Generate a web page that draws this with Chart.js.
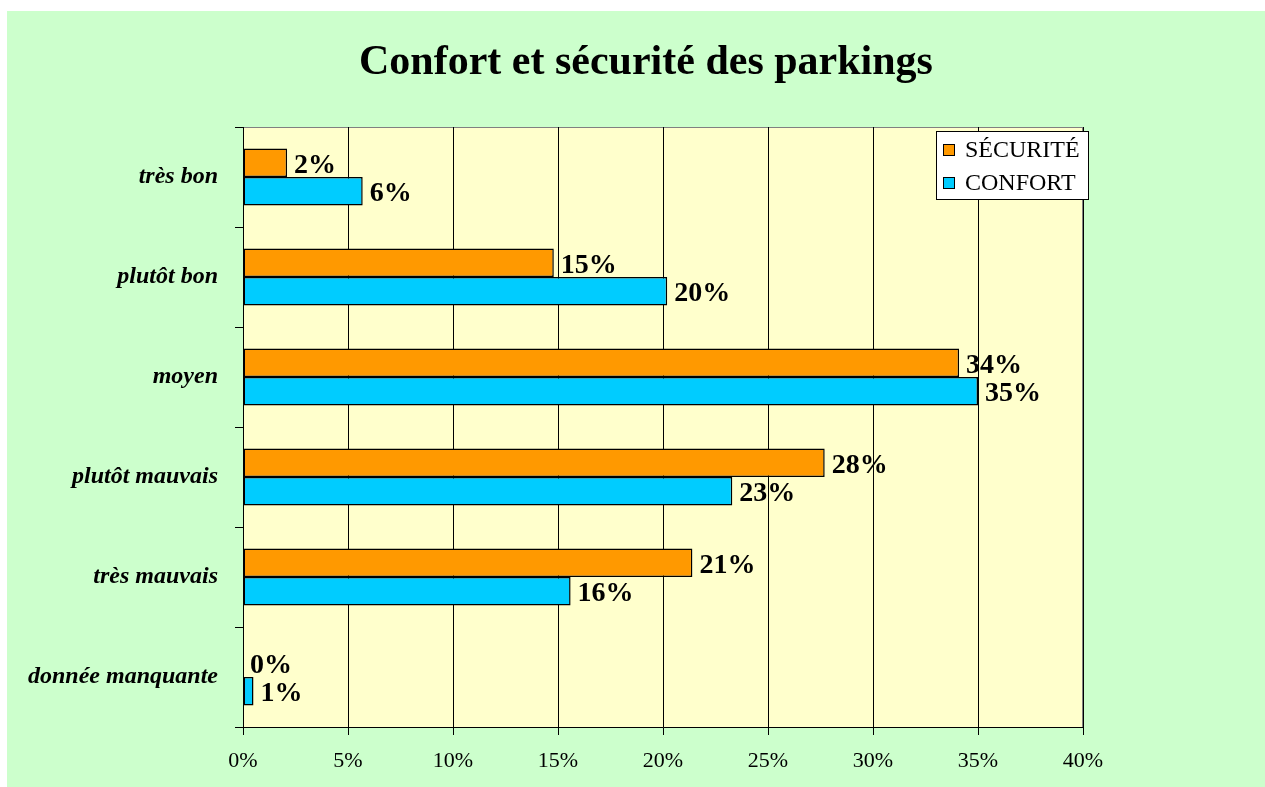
<!DOCTYPE html>
<html>
<head>
<meta charset="utf-8">
<script src="https://cdn.jsdelivr.net/npm/chart.js@4/dist/chart.umd.min.js"></script>
<style>
    body { margin: 0; background: #ffffff; }
    #cadre { position: absolute; left: 7px; top: 11px; width: 1258px; height: 776px; background: #CCFFCC; }
</style>
</head>
<body>
<div id="cadre"><canvas id="graphique"></canvas></div>
<script>
const titre = 'Confort et sécurité des parkings';
const categories = ['très bon', 'plutôt bon', 'moyen', 'plutôt mauvais', 'très mauvais', 'donnée manquante'];
const securite = [2.1, 14.8, 34.1, 27.7, 21.4, 0];
const confort = [5.7, 20.2, 35.0, 23.3, 15.6, 0.5];
const ticksX = [0, 5, 10, 15, 20, 25, 30, 35, 40];

const police = '"Liberation Serif", "Times New Roman", serif';

// fond jaune de la zone de tracé + titre
const fondZone = {
    id: 'fondZone',
    beforeDraw(chart) {
        const { ctx, chartArea: a } = chart;
        ctx.save();
        ctx.fillStyle = '#FFFFCC';
        ctx.fillRect(a.left, a.top, a.right - a.left, a.bottom - a.top);
        ctx.strokeStyle = '#808080';
        ctx.lineWidth = 1;
        ctx.strokeRect(a.left + 0.5, a.top + 0.5, a.right - a.left - 1, a.bottom - a.top);
        ctx.font = 'bold 42px ' + police;
        ctx.fillStyle = '#000';
        ctx.textAlign = 'center';
        ctx.textBaseline = 'alphabetic';
        ctx.fillText(titre, 639, 63);
        ctx.restore();
    }
};

// étiquettes de valeurs au bout des barres
const etiquettes = {
    id: 'etiquettes',
    afterDatasetsDraw(chart) {
        const ctx = chart.ctx;
        ctx.save();
        ctx.font = 'bold 28px ' + police;
        ctx.fillStyle = '#000';
        ctx.textBaseline = 'middle';
        ctx.textAlign = 'left';
        chart.data.datasets.forEach((ds, i) => {
            chart.getDatasetMeta(i).data.forEach((bar, j) => {
                ctx.fillText(Math.round(ds.data[j]) + '%', bar.x + 7, bar.y + 3);
            });
        });
        ctx.restore();
    }
};

// légende dans la zone de tracé
const legende = {
    id: 'legende',
    afterDraw(chart) {
        const ctx = chart.ctx;
        const x = 929, y = 120, w = 152, h = 68;
        ctx.save();
        ctx.fillStyle = '#fff';
        ctx.fillRect(x, y, w, h);
        ctx.strokeStyle = '#000';
        ctx.lineWidth = 1;
        ctx.strokeRect(x + 0.5, y + 0.5, w, h);
        ctx.font = '24px ' + police;
        ctx.textBaseline = 'middle';
        chart.data.datasets.forEach((ds, i) => {
            const cy = y + 19 + i * 33;
            ctx.fillStyle = ds.backgroundColor;
            ctx.fillRect(x + 7, cy - 6, 12, 12);
            ctx.strokeStyle = '#000';
            ctx.strokeRect(x + 7.5, cy - 5.5, 11, 11);
            ctx.fillStyle = '#000';
            ctx.fillText(ds.label, x + 29, cy + 1);
        });
        ctx.restore();
    }
};

new Chart(document.getElementById('graphique'), {
    type: 'bar',
    data: {
        labels: categories,
        datasets: [
            { label: 'SÉCURITÉ', data: securite, backgroundColor: '#FF9900', borderColor: '#000', borderWidth: 1.5, borderSkipped: false },
            { label: 'CONFORT', data: confort, backgroundColor: '#00CCFF', borderColor: '#000', borderWidth: 1.5, borderSkipped: false }
        ]
    },
    options: {
        indexAxis: 'y',
        responsive: true,
        maintainAspectRatio: false,
        animation: false,
        categoryPercentage: 0.57,
        barPercentage: 1.0,
        layout: { padding: { left: 0, right: 182, top: 116, bottom: 0 } },
        plugins: {
            legend: { display: false },
            tooltip: { enabled: false },
            title: { display: false }
        },
        scales: {
            x: {
                min: 0,
                max: 40,
                afterFit(scale) { scale.height = 60; },
                afterBuildTicks(scale) { scale.ticks = ticksX.map(v => ({ value: v })); },
                ticks: {
                    color: '#000',
                    padding: 13,
                    font: { family: police, size: 22 },
                    callback: v => v + '%'
                },
                grid: { color: '#000', lineWidth: 1, tickLength: 8 },
                border: { color: '#000', width: 1 }
            },
            y: {
                afterFit(scale) { scale.width = 236; },
                ticks: {
                    color: '#000',
                    padding: 17,
                    font: { family: police, size: 24, weight: 'bold', style: 'italic' }
                },
                grid: { color: '#000', drawOnChartArea: false, tickLength: 8, offset: true },
                border: { color: '#000', width: 1 }
            }
        }
    },
    plugins: [fondZone, etiquettes, legende]
});
</script>
</body>
</html>
